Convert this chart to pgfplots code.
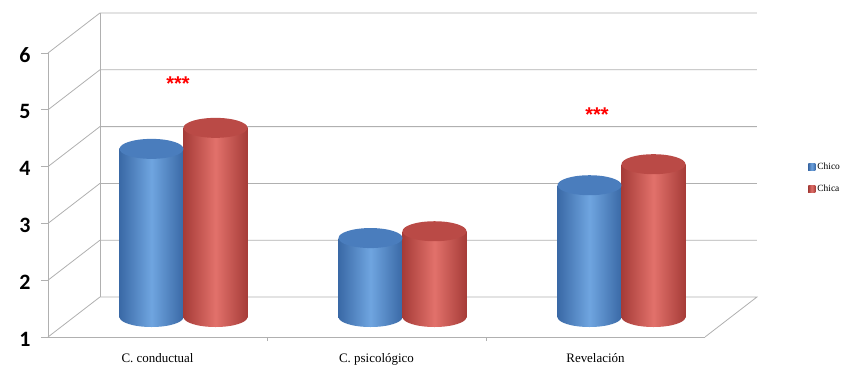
\documentclass[border=0pt]{standalone}
\usepackage{fontspec}
\setmainfont{Liberation Serif}
\newfontfamily\calibri{Carlito}
\newfontfamily\arial{Liberation Sans}
\usepackage{pgfplots}
\pgfplotsset{compat=1.18}
\usetikzlibrary{shapes.geometric}

\definecolor{bdark}{HTML}{3A69A6}
\definecolor{blight}{HTML}{6FA5E0}
\definecolor{btop}{HTML}{4A7DBD}
\definecolor{rdark}{HTML}{A63C38}
\definecolor{rlight}{HTML}{E2716B}
\definecolor{rtop}{HTML}{BA4A46}
\definecolor{gridc}{HTML}{B0B0B0}

% one cylinder = shaded bar + ellipse on top (node near coord)
\pgfplotsset{
  cylbody/.style n args={4}{ybar, bar width=64bp, bar shift=#1, draw=none,
    left color=#2, right color=#2, middle color=#3,
    nodes near coords={\relax},
    every node near coord/.style={ellipse, inner sep=0pt, minimum width=64bp,
      minimum height=20bp, fill=#4, draw=none, anchor=center, xshift=#1}},
  cylbase/.style n args={3}{ybar, bar width=64bp, bar shift=#1, draw=none,
    fill=none, forget plot,
    nodes near coords={\relax},
    every node near coord/.style={ellipse, inner sep=0pt, minimum width=64bp,
      minimum height=20bp, left color=#2, right color=#2, middle color=#3,
      draw=none, anchor=center, xshift=#1}},
}

\begin{document}
\begin{tikzpicture}
\useasboundingbox (-48bp,-30bp) rectangle (806bp,337bp);
\begin{axis}[
  scale only axis, width=657bp, height=284bp,
  xmin=-0.5, xmax=2.5, ymin=-0.352, ymax=4.648,
  clip=false,
  y filter/.expression={y-1},
  axis x line*=bottom, axis y line*=left,
  axis line style={gridc, line width=0.8bp},
  tick style={gridc, line width=0.8bp},
  xtick={0,1,2},
  xticklabels={C. conductual, C. psicológico, Revelación},
  minor xtick={0.5,1.5},
  major x tick style={draw=none},
  minor tick length=4bp,
  major tick length=7bp,
  xtick align=outside, ytick align=outside,
  xticklabel style={font=\fontsize{13}{13}\selectfont, yshift=-6bp},
  ytick={-0.352,0.648,1.648,2.648,3.648,4.648},
  yticklabels={1,2,3,4,5,6},
  yticklabel style={font=\fontsize{22}{22}\calibri\bfseries, xshift=-7bp, yshift=-2bp},
  legend style={at={(1.157,0.62)}, anchor=north west, draw=none, fill=none,
    font=\fontsize{9.5}{11}\selectfont, row sep=10bp, inner sep=0pt},
  legend cell align=left,
]
% 3D frame: left wall, back wall, floor
\draw[gridc, line width=0.8bp] (axis cs:-0.5,-0.352) -- (axis cs:-0.263,0.352) -- (axis cs:2.737,0.352) -- (axis cs:2.5,-0.352);
\draw[gridc, line width=0.8bp] (axis cs:-0.5,0.648) -- (axis cs:-0.263,1.352) -- (axis cs:2.737,1.352);
\draw[gridc, line width=0.8bp] (axis cs:-0.5,1.648) -- (axis cs:-0.263,2.352) -- (axis cs:2.737,2.352);
\draw[gridc, line width=0.8bp] (axis cs:-0.5,2.648) -- (axis cs:-0.263,3.352) -- (axis cs:2.737,3.352);
\draw[gridc, line width=0.8bp] (axis cs:-0.5,3.648) -- (axis cs:-0.263,4.352) -- (axis cs:2.737,4.352);
\draw[gridc, line width=0.8bp] (axis cs:-0.5,4.648) -- (axis cs:-0.263,5.352) -- (axis cs:2.737,5.352);
\draw[gridc, line width=0.8bp] (axis cs:-0.263,0.352) -- (axis cs:-0.263,5.352);

% cylinder bottoms
\addplot[cylbase={-6bp}{bdark}{blight}] coordinates {(0,1) (1,1) (2,1)};
\addplot[cylbase={58bp}{rdark}{rlight}] coordinates {(0,1) (1,1) (2,1)};

% Chico
\addplot[cylbody={-6bp}{bdark}{blight}{btop},
  legend image code/.code={\fill[btop] (0bp,-3.5bp) rectangle (7bp,3.5bp);}]
  coordinates {(0,3.96)};
\addlegendentry{Chico}
% Chica
\addplot[cylbody={58bp}{rdark}{rlight}{rtop},
  legend image code/.code={\fill[rtop] (0bp,-3.5bp) rectangle (7bp,3.5bp);}]
  coordinates {(0,4.33)};
\addlegendentry{Chica}

\addplot[cylbody={-6bp}{bdark}{blight}{btop}, forget plot] coordinates {(1,2.39)};
\addplot[cylbody={58bp}{rdark}{rlight}{rtop}, forget plot] coordinates {(1,2.51)};
\addplot[cylbody={-6bp}{bdark}{blight}{btop}, forget plot] coordinates {(2,3.32)};
\addplot[cylbody={58bp}{rdark}{rlight}{rtop}, forget plot] coordinates {(2,3.69)};

\node[text=red, font=\fontsize{20}{20}\arial\bfseries] at (axis cs:0.094,4.10) {***};
\node[text=red, font=\fontsize{20}{20}\arial\bfseries] at (axis cs:2.007,3.57) {***};
\end{axis}
\end{tikzpicture}
\end{document}
